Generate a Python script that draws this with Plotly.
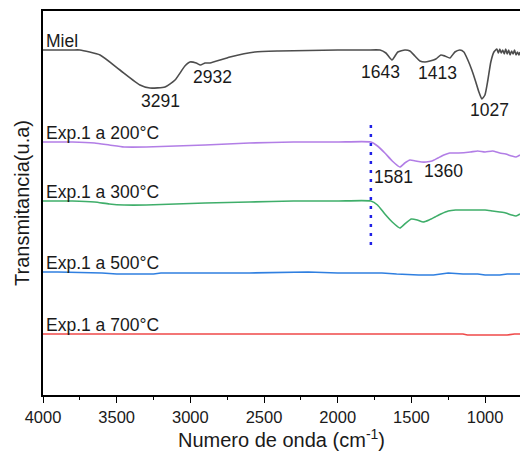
import plotly.graph_objects as go

# y in arbitrary units (higher = more transmittance)
miel_x = [4000, 3800, 3750, 3613, 3478, 3342, 3274, 3172, 3104, 3037, 3003, 2960, 2932, 2900, 2867, 2731, 2562, 2400, 2000, 1800, 1713, 1673, 1632, 1592, 1544, 1510, 1476, 1442, 1408, 1374, 1334, 1300, 1273, 1239, 1205, 1171, 1144, 1117, 1090, 1063, 1042, 1022, 1001, 981, 961, 940, 920, 910, 900, 890, 880, 870, 860, 850, 840, 830, 820, 810, 800, 790, 780, 770, 763]
miel_y = [345, 345, 345, 340, 325, 310, 307, 308, 315, 329, 333, 332, 330, 332, 332, 338, 343, 344, 345, 345, 345, 342, 335, 343, 345, 344, 339, 334, 333, 334, 336, 340, 339, 337, 343, 345, 343, 335, 325, 313, 303, 296, 300, 315, 333, 343, 346, 342, 346, 342, 345, 341, 346, 341, 345, 340, 344, 341, 345, 340, 343, 340, 343]

t200_x = [4000, 3800, 3650, 3550, 3450, 3300, 3100, 2900, 2600, 2300, 2000, 1775, 1730, 1680, 1630, 1578, 1545, 1510, 1470, 1430, 1400, 1360, 1320, 1280, 1240, 1180, 1100, 1050, 1000, 950, 900, 860, 820, 790, 763]
t200_y = [253, 253, 252, 250, 248, 248, 249, 250, 252, 253, 253, 253, 249, 242, 234, 228, 232, 235, 234, 233, 233, 234, 237, 240, 242, 242, 243, 244, 243, 244, 242, 241, 239, 238, 240]

t300_x = [4000, 3800, 3650, 3550, 3450, 3300, 3100, 2900, 2600, 2300, 2000, 1775, 1730, 1680, 1630, 1578, 1545, 1500, 1460, 1420, 1380, 1340, 1300, 1250, 1200, 1100, 1000, 950, 900, 860, 820, 790, 763]
t300_y = [194, 194, 193, 191, 190, 190, 191, 192, 193, 194, 194, 194, 190, 181, 173, 167, 171, 176, 175, 173, 175, 178, 181, 184, 185, 185, 185, 184, 183, 182, 180, 179, 181]

t500_x = [4000, 3900, 3600, 3500, 3400, 3250, 3200, 3000, 2600, 2200, 2000, 1800, 1700, 1600, 1500, 1450, 1400, 1350, 1300, 1250, 1150, 1100, 1050, 1000, 950, 900, 850, 800, 763]
t500_y = [123, 123, 122, 121, 121, 121, 122, 122, 122, 123, 122, 122, 122, 121, 120, 120, 120, 120, 121, 122, 121, 121, 121, 120, 120, 120, 121, 121, 121]

t700_x = [4000, 3000, 2200, 2000, 1500, 1150, 1120, 1100, 1000, 900, 850, 800, 763]
t700_y = [61, 61, 61, 61, 61, 61, 60, 60, 60, 60, 60, 61, 61]

marker_x = [1775, 1775]
marker_y = [270, 150]

series_names = ["Miel", "Exp.1 a 200°C", "Exp.1 a 300°C", "Exp.1 a 500°C", "Exp.1 a 700°C"]
series_colors = ["#4d4d4d", "#b27ee6", "#3fae6a", "#2f7fe0", "#ef4a4a"]
series_shapes = ["spline", "spline", "spline", "linear", "linear"]

peak_labels = ["3291", "2932", "1643", "1413", "1027", "1581", "1360"]
peak_x = [3206, 2847, 1707, 1320, 968, 1619, 1280]
peak_y = [294, 318, 323, 322, 285, 218, 224]

x_ticks = [4000, 3500, 3000, 2500, 2000, 1500, 1000]

fig = go.Figure()
data = [(miel_x, miel_y), (t200_x, t200_y), (t300_x, t300_y), (t500_x, t500_y), (t700_x, t700_y)]
for (xs, ys), name, col, shp in zip(data, series_names, series_colors, series_shapes):
    line = dict(color=col, width=1.6, shape=shp)
    if shp == "spline":
        line["smoothing"] = 0.5
    fig.add_trace(go.Scatter(x=xs, y=ys, mode="lines", name=name, line=line))

fig.add_trace(go.Scatter(x=marker_x, y=marker_y, mode="lines",
                         line=dict(color="#1f1fe6", width=2.5, dash="3px,6px")))

font_family = "Arial, Liberation Sans, sans-serif"

label_y = [y[0] for _, y in data]
for name, ly in zip(series_names, label_y):
    fig.add_annotation(x=3990, y=ly, text=name, showarrow=False, xanchor="left", yanchor="bottom",
                       yshift=-3, font=dict(size=17.5, color="#1a1a1a", family=font_family))

for t, px, py in zip(peak_labels, peak_x, peak_y):
    fig.add_annotation(x=px, y=py, text=t, showarrow=False,
                       font=dict(size=17.5, color="#1a1a1a", family=font_family))

fig.update_layout(
    width=520, height=456,
    margin=dict(l=43, r=0, t=11, b=61),
    paper_bgcolor="white", plot_bgcolor="white",
    showlegend=False,
    font=dict(family=font_family, color="#1a1a1a"),
    xaxis=dict(range=[4000, 763], tickvals=x_ticks, ticks="outside", ticklen=6, tickwidth=1.2,
               tickcolor="black", showline=True, linecolor="black", linewidth=1.6, mirror=True,
               showgrid=False, zeroline=False, tickfont=dict(size=16.5),
               minor=dict(ticks="outside", ticklen=3, tickcolor="black", dtick=250, showgrid=False),
               title=dict(text="Numero de onda (cm<sup>-1</sup>)", font=dict(size=20), standoff=8)),
    yaxis=dict(range=[0, 384], showticklabels=False, ticks="", showline=True, linecolor="black",
               linewidth=1.6, showgrid=False, zeroline=False,
               title=dict(text="Transmitancia(u.a)", font=dict(size=20), standoff=6)),
)

fig.write_html("out.html")
